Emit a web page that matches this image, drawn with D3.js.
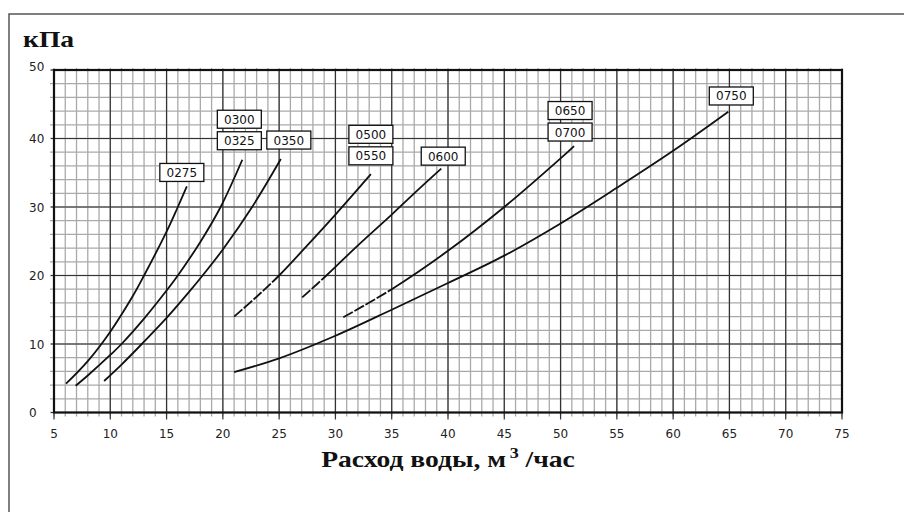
<!DOCTYPE html>
<html>
<head>
<meta charset="utf-8">
<script src="https://cdn.jsdelivr.net/npm/d3@7"></script>
<style>
  body { margin: 0; background: #fff; }
  svg { display: block; }
</style>
</head>
<body>
<svg id="chart" width="904" height="512"></svg>
<script>
// Tick values
const xTicks = [5, 10, 15, 20, 25, 30, 35, 40, 45, 50, 55, 60, 65, 70, 75];
const yTicks = [0, 10, 20, 30, 40, 50];

// Pressure loss curves: [flow m3/h, pressure kPa]
const curve0275 = [[6.07, 4.2], [8, 7.5], [10, 11.8], [12, 17.0], [13, 20], [15, 26.4], [16, 30], [16.8, 33.0]];
const curve0300 = [[6.92, 3.9], [8, 5.4], [10, 8.4], [11, 10], [13, 13.7], [15, 17.8], [16, 20], [18, 24.9], [19.8, 30], [21.73, 36.9]];
const curve0350 = [[9.45, 4.6], [11, 7.0], [12.8, 10], [15, 13.8], [17, 17.6], [18.2, 20], [20, 23.8], [22.6, 30], [25.15, 37.0]];
const curve0500 = [[21, 14.0], [23, 16.9], [25, 20], [27.5, 24.4], [30, 28.9], [33.15, 34.8]];
const curve0600 = [[27.05, 16.8], [29.2, 20], [32, 24.4], [35, 28.9], [37, 32.0], [39.4, 35.6]];
const curve0650 = [[30.7, 13.9], [35, 18.0], [40, 23.6], [45, 30.0], [50, 37.1], [51.2, 38.9]];
const curve0750 = [[21, 5.9], [25, 7.9], [30, 11.2], [35, 15.0], [40, 18.9], [45, 22.9], [50, 27.6], [55, 32.8], [60, 38.2], [64.9, 43.9]];

const curves = [curve0275, curve0300, curve0350, curve0500, curve0600, curve0650, curve0750];
// Model names attached to each curve, top to bottom
const curveLabels = [["0275"], ["0300", "0325"], ["0350"], ["0500", "0550"], ["0600"], ["0650", "0700"], ["0750"]];
// Flow below which a curve is drawn dashed (null = solid throughout)
const dashedBelow = [null, null, null, 25, 29.5, 35, null];

// Where each label stack sits relative to its curve end (px): [dx of box centre, dy of lowest box bottom]
const labelPlacement = [[-5, -5], [-3, -10], [8, -10], [0, -9.3], [2, -3.5], [-4, -5], [3, -6.8]];

const svg = d3.select("#chart");
const plot = { left: 54, right: 842, top: 70, bottom: 412.5 };

const x = d3.scaleLinear().domain([5, 75]).range([plot.left, plot.right]);
const y = d3.scaleLinear().domain([0, 50]).range([plot.bottom, plot.top]);

// Outer frame
svg.append("rect")
  .attr("x", 9).attr("y", 14).attr("width", 1000).attr("height", 1000)
  .attr("fill", "none").attr("stroke", "#555").attr("stroke-width", 1.5);

const grid = svg.append("g");

// Minor grid: every 1 m3/h and every 2 kPa, poking out as small ticks
grid.selectAll("line.vminor").data(d3.range(5, 76, 1)).join("line")
  .attr("x1", d => x(d)).attr("x2", d => x(d))
  .attr("y1", plot.top - 2).attr("y2", plot.bottom + 4)
  .attr("stroke", "#aaa").attr("stroke-width", 1.3);
grid.selectAll("line.hminor").data(d3.range(0, 51, 2)).join("line")
  .attr("x1", plot.left - 4).attr("x2", plot.right)
  .attr("y1", d => y(d)).attr("y2", d => y(d))
  .attr("stroke", "#aaa").attr("stroke-width", 1.3);

// Major grid
grid.selectAll("line.vmajor").data(xTicks).join("line")
  .attr("x1", d => x(d)).attr("x2", d => x(d))
  .attr("y1", plot.top).attr("y2", plot.bottom + 7)
  .attr("stroke", "#333").attr("stroke-width", 1.2);
grid.selectAll("line.hmajor").data(yTicks).join("line")
  .attr("x1", plot.left - 3).attr("x2", plot.right)
  .attr("y1", d => y(d)).attr("y2", d => y(d))
  .attr("stroke", "#333").attr("stroke-width", 1.2);

// Plot border
svg.append("rect")
  .attr("x", plot.left).attr("y", plot.top)
  .attr("width", plot.right - plot.left).attr("height", plot.bottom - plot.top)
  .attr("fill", "none").attr("stroke", "#111").attr("stroke-width", 2.2);

// Tick labels
svg.append("g").selectAll("text").data(xTicks).join("text")
  .attr("x", d => x(d)).attr("y", 437.5)
  .attr("text-anchor", "middle")
  .attr("font-family", "DejaVu Sans, sans-serif").attr("font-size", 12)
  .attr("fill", "#222")
  .text(d => d);
svg.append("g").selectAll("text").data(yTicks).join("text")
  .attr("x", 29).attr("y", d => y(d) + (d === 50 ? 0.5 : 4.5))
  .attr("text-anchor", "start")
  .attr("font-family", "DejaVu Sans, sans-serif").attr("font-size", 12)
  .attr("fill", "#222")
  .text(d => d);

// Axis titles (wide bold serif, stretched horizontally)
svg.append("text")
  .attr("transform", "translate(23,47) scale(1.2,1)")
  .attr("font-family", "Liberation Serif, serif").attr("font-weight", "bold")
  .attr("font-size", 23).attr("fill", "#111")
  .text("кПа");

const xt = svg.append("text")
  .attr("transform", `translate(${(plot.left + plot.right) / 2},467) scale(1.2,1)`)
  .attr("text-anchor", "middle")
  .attr("font-family", "Liberation Serif, serif").attr("font-weight", "bold")
  .attr("font-size", 23).attr("fill", "#111");
xt.append("tspan").text("Расход воды, м");
xt.append("tspan").attr("font-size", 15).attr("dy", -9).attr("dx", 3).text("3");
xt.append("tspan").attr("dy", 9).text(" /час");

// Curves
const line = d3.line()
  .x(d => x(d[0])).y(d => y(d[1]))
  .curve(d3.curveCatmullRom.alpha(0.5));

const paths = svg.append("g").selectAll("path").data(curves).join("path")
  .attr("d", line)
  .attr("fill", "none").attr("stroke", "#111").attr("stroke-width", 1.8);

// Leading part of some curves is dashed: find the path length where the
// flow reaches the threshold and build a dash pattern up to that point.
paths.each(function (c, i) {
  const limit = dashedBelow[i];
  if (limit == null) return;
  const total = this.getTotalLength();
  const px = x(limit);
  let lo = 0, hi = total;
  for (let k = 0; k < 30; k++) {
    const mid = (lo + hi) / 2;
    if (this.getPointAtLength(mid).x < px) lo = mid; else hi = mid;
  }
  const dash = 11, gap = 1.8;
  const pattern = [];
  let len = 0;
  while (len + dash + gap < lo) { pattern.push(dash, gap); len += dash + gap; }
  pattern.push(total, 0);
  d3.select(this).attr("stroke-dasharray", pattern.join(","));
});

// Label boxes above each curve end
const boxW = 44, boxH = 18, boxStep = 21.5;
curves.forEach((c, i) => {
  const end = c[c.length - 1];
  const cx = x(end[0]) + labelPlacement[i][0];
  const bottom = y(end[1]) + labelPlacement[i][1];
  const names = curveLabels[i];
  names.forEach((name, j) => {
    const top = bottom - boxH - (names.length - 1 - j) * boxStep;
    const g = svg.append("g");
    g.append("rect")
      .attr("x", cx - boxW / 2).attr("y", top)
      .attr("width", boxW).attr("height", boxH)
      .attr("fill", "#fff").attr("stroke", "#111").attr("stroke-width", 1.3);
    g.append("text")
      .attr("x", cx).attr("y", top + 13.5)
      .attr("text-anchor", "middle")
      .attr("font-family", "DejaVu Sans, sans-serif").attr("font-size", 12)
      .attr("fill", "#111")
      .text(name);
  });
});
</script>
</body>
</html>
